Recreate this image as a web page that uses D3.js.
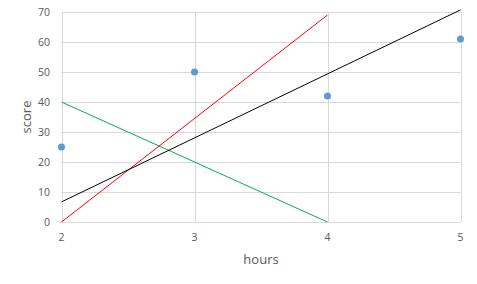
<!DOCTYPE html>
<html>
<head>
<meta charset="utf-8">
<script src="https://d3js.org/d3.v7.min.js"></script>
<style>
  body { margin: 0; background: #fff; }
  text { font-family: "Open Sans", "Liberation Sans", sans-serif; }
</style>
</head>
<body>
<script>
// scatter points
var hours = [2, 3, 4, 5];
var scores = [25, 50, 42, 61];

// straight lines, as [x, y] endpoints
var blackLine = [[2, 6.7], [5, 70.7]];
var redLine = [[2, 0], [4, 69]];
var greenLine = [[2, 40], [4, 0]];

var xTicks = [2, 3, 4, 5];
var yTicks = [0, 10, 20, 30, 40, 50, 60, 70];

var width = 477, height = 284;
var svg = d3.select("body").append("svg")
  .attr("width", width)
  .attr("height", height);

var x = d3.scaleLinear().domain([2, 5]).range([61.5, 460.5]);
var y = d3.scaleLinear().domain([0, 70]).range([222, 12]);

// grid
svg.append("g").selectAll("line.h")
  .data(yTicks).enter().append("line")
    .attr("x1", x(2)).attr("x2", x(5))
    .attr("y1", d => Math.round(y(d)) + 0.5).attr("y2", d => Math.round(y(d)) + 0.5)
    .attr("stroke", "#d9d9d9").attr("stroke-width", 1);

svg.append("g").selectAll("line.v")
  .data(xTicks).enter().append("line")
    .attr("x1", d => Math.round(x(d)) + 0.5).attr("x2", d => Math.round(x(d)) + 0.5)
    .attr("y1", y(70)).attr("y2", y(0))
    .attr("stroke", "#d9d9d9").attr("stroke-width", 1);

// tick labels
svg.append("g").selectAll("text")
  .data(yTicks).enter().append("text")
    .attr("x", 50).attr("y", d => y(d) + 3.5)
    .attr("text-anchor", "end")
    .style("font-size", "10.5px").style("fill", "#595959")
    .text(d => d);

svg.append("g").selectAll("text")
  .data(xTicks).enter().append("text")
    .attr("x", d => x(d)).attr("y", 241)
    .attr("text-anchor", "middle")
    .style("font-size", "10.5px").style("fill", "#595959")
    .text(d => d);

// axis titles
svg.append("text")
  .attr("x", 261).attr("y", 264)
  .attr("text-anchor", "middle")
  .style("font-size", "13px").style("fill", "#595959")
  .text("hours");

svg.append("text")
  .attr("transform", "translate(31,117) rotate(-90)")
  .attr("text-anchor", "middle")
  .style("font-size", "13px").style("fill", "#595959")
  .text("score");

// lines
var line = d3.line().x(d => x(d[0])).y(d => y(d[1]));
[[greenLine, "#00b050"], [redLine, "#ff0000"], [blackLine, "#000000"]].forEach(function (l) {
  svg.append("path")
    .attr("d", line(l[0]))
    .attr("fill", "none")
    .attr("stroke", l[1])
    .attr("stroke-width", 1);
});

// points
svg.append("g").selectAll("circle")
  .data(hours).enter().append("circle")
    .attr("cx", d => x(d))
    .attr("cy", (d, i) => y(scores[i]))
    .attr("r", 3.5)
    .attr("fill", "#5b9bd5");
</script>
</body>
</html>
